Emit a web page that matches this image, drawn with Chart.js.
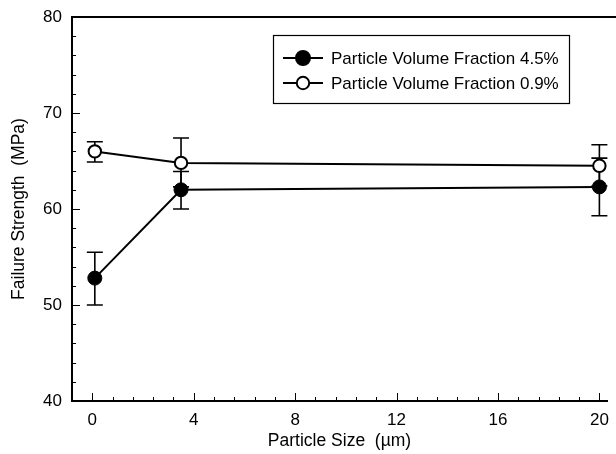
<!DOCTYPE html>
<html>
<head>
<meta charset="utf-8">
<script src="https://cdn.jsdelivr.net/npm/chart.js@4/dist/chart.umd.min.js"></script>
<style>
  html, body { margin: 0; padding: 0; overflow: hidden; background: #fff; }
  #wrap { width: 616px; height: 454px; }
</style>
</head>
<body>
<div id="wrap"><canvas id="myChart" width="616" height="454"></canvas></div>
<script>
// particle size (um) and failure strength (MPa)
var sizes = [0.1, 3.5, 20]
var vf45 = [52.8, 62.0, 62.3]
var vf45Lo = [50.0, 60.0, 59.3]
var vf45Hi = [55.5, 63.9, 65.3]
var vf09 = [66.0, 64.8, 64.5]
var vf09Lo = [64.9, 62.3, 62.4]
var vf09Hi = [67.0, 67.4, 66.7]
var xTicks = [0, 4, 8, 12, 16, 20]
var yTicks = [40, 50, 60, 70, 80]
var labels = ['Particle Volume Fraction 4.5%', 'Particle Volume Fraction 0.9%']
var fam = '"Liberation Sans", Arial, sans-serif'

function pts(xs, ys) {
      return xs.map(function (x, i) { return { x: x, y: ys[i] } })
}

var errorBars = {
      id: 'errorBars',
      beforeDatasetsDraw: function (chart) {
            var ctx = chart.ctx
            var xs = chart.scales.x, ys = chart.scales.y
            var sets = [[vf45Lo, vf45Hi], [vf09Lo, vf09Hi]]
            ctx.save()
            ctx.strokeStyle = '#000'
            ctx.lineWidth = 1.6
            sets.forEach(function (s) {
                  sizes.forEach(function (x, i) {
                        var px = xs.getPixelForValue(x)
                        var lo = ys.getPixelForValue(s[0][i])
                        var hi = ys.getPixelForValue(s[1][i])
                        ctx.beginPath()
                        ctx.moveTo(px, lo); ctx.lineTo(px, hi)
                        ctx.moveTo(px - 8, lo); ctx.lineTo(px + 8, lo)
                        ctx.moveTo(px - 8, hi); ctx.lineTo(px + 8, hi)
                        ctx.stroke()
                  })
            })
            ctx.restore()
      }
}

var frame = {
      id: 'frame',
      afterDraw: function (chart) {
            var ctx = chart.ctx
            var a = chart.chartArea
            var xs = chart.scales.x, ys = chart.scales.y
            ctx.save()
            ctx.strokeStyle = '#000'
            ctx.lineWidth = 2
            ctx.beginPath()
            ctx.moveTo(a.left, a.top); ctx.lineTo(chart.width, a.top)
            ctx.stroke()
            ctx.lineWidth = 1
            // inward ticks, y: minor every 2
            for (var v = 40; v <= 80; v += 2) {
                  var py = Math.round(ys.getPixelForValue(v)) + 0.5
                  var len = (v % 10 === 0) ? 8 : 4
                  ctx.beginPath(); ctx.moveTo(a.left, py); ctx.lineTo(a.left + len, py); ctx.stroke()
            }
            // x: minor every 0.8
            for (var k = -1; k <= 27; k++) {
                  var xv = k * 0.8
                  if (xv < xs.min || xv > xs.max) continue
                  var px = Math.round(xs.getPixelForValue(xv)) + 0.5
                  var l2 = (k % 5 === 0) ? 8 : 4
                  ctx.beginPath(); ctx.moveTo(px, a.bottom); ctx.lineTo(px, a.bottom - l2); ctx.stroke()
            }
            // legend box
            var bx = 273, by = 35, bw = 296, bh = 68
            ctx.lineWidth = 1.2
            ctx.fillStyle = '#fff'
            ctx.fillRect(bx, by, bw, bh)
            ctx.strokeRect(bx + 0.5, by + 0.5, bw, bh)
            ctx.font = '17px ' + fam
            ctx.textBaseline = 'middle'
            var rows = [58, 83]
            rows.forEach(function (ry, i) {
                  ctx.lineWidth = 2
                  ctx.beginPath(); ctx.moveTo(283, ry); ctx.lineTo(323, ry); ctx.stroke()
                  ctx.beginPath(); ctx.arc(303, ry, i === 0 ? 7 : 6.2, 0, Math.PI * 2)
                  ctx.fillStyle = i === 0 ? '#000' : '#fff'
                  ctx.fill()
                  ctx.lineWidth = 2
                  ctx.stroke()
                  ctx.fillStyle = '#000'
                  ctx.fillText(labels[i], 331, ry + 1)
            })
            ctx.restore()
      }
}

var ctx = document.getElementById('myChart')
var myChart = new Chart(ctx, {
      type: 'scatter',
      data: {
            datasets: [{
                  label: labels[0],
                  data: pts(sizes, vf45),
                  showLine: true,
                  borderColor: '#000',
                  borderWidth: 2,
                  pointRadius: 7,
                  pointBackgroundColor: '#000',
                  pointBorderColor: '#000',
                  pointBorderWidth: 1,
            },
            {
                  label: labels[1],
                  data: pts(sizes, vf09),
                  showLine: true,
                  borderColor: '#000',
                  borderWidth: 2,
                  pointRadius: 6.2,
                  pointBackgroundColor: '#fff',
                  pointBorderColor: '#000',
                  pointBorderWidth: 2,
            }]
      },
      options: {
            animation: false,
            responsive: false,
            clip: false,
            layout: { padding: { top: 17, right: 9, left: 0, bottom: 0 } },
            plugins: {
                  legend: { display: false },
                  tooltip: { enabled: false },
            },
            scales: {
                  x: {
                        type: 'linear',
                        min: -0.8,
                        max: 20.3,
                        afterBuildTicks: function (s) { s.ticks = xTicks.map(function (v) { return { value: v } }) },
                        afterFit: function (s) { s.height = 53; s.paddingLeft = 0; s.paddingRight = 0 },
                        grid: { display: false, drawTicks: false },
                        border: { display: true, color: '#000', width: 2 },
                        ticks: { color: '#000', padding: 9, font: { size: 17, family: fam } },
                        title: { display: true, text: 'Particle Size  (\u00b5m)', color: '#000', padding: { top: 0, bottom: 2 }, font: { size: 17.5, family: fam } }
                  },
                  y: {
                        min: 40,
                        max: 80,
                        afterBuildTicks: function (s) { s.ticks = yTicks.map(function (v) { return { value: v } }) },
                        afterFit: function (s) { s.width = 72; s.paddingTop = 0; s.paddingBottom = 0 },
                        grid: { display: false, drawTicks: false },
                        border: { display: true, color: '#000', width: 2 },
                        ticks: { color: '#000', padding: 10, font: { size: 17, family: fam } },
                        title: { display: true, text: 'Failure Strength  (MPa)', color: '#000', padding: { top: 9, bottom: 0 }, font: { size: 17.5, family: fam } }
                  }
            }
      },
      plugins: [errorBars, frame]
})
</script>
</body>
</html>
